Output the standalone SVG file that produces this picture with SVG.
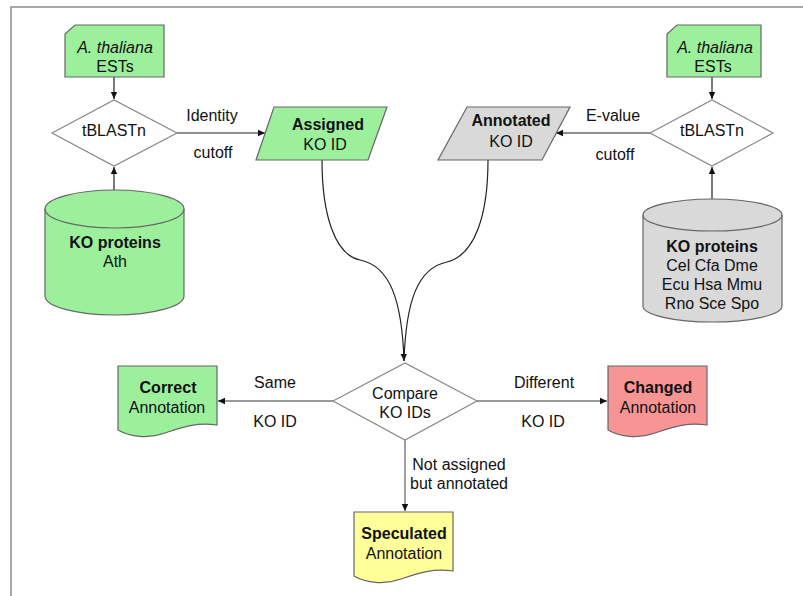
<svg xmlns="http://www.w3.org/2000/svg" width="803" height="596" viewBox="0 0 803 596">
<style>
text{font-family:"Liberation Sans",Arial,sans-serif;font-size:16px;fill:#111;text-anchor:middle}
.b{font-weight:bold}
.i{font-style:italic}
.sh{stroke:#666;stroke-width:1.2}
.g{fill:#9cf09c}
.gr{fill:#d9d9d9}
.pk{fill:#f79595}
.yl{fill:#ffff99}
.dm{fill:#fff;stroke:#888;stroke-width:1.2}
.c{fill:none;stroke:#222;stroke-width:1.2}
.cg{fill:none;stroke:#777;stroke-width:1.4}
</style>
<defs>
<marker id="ah" markerWidth="8" markerHeight="8" refX="7" refY="4" orient="auto" markerUnits="userSpaceOnUse">
<path d="M0,0.8 L7,4 L0,7.2 Z" fill="#111"/>
</marker>
</defs>
<rect width="803" height="596" fill="#fff"/>
<path d="M11,596 V7 H803" fill="none" stroke="#8a8a8a" stroke-width="1.5"/>

<g id="connectors">
<line class="c" x1="114" y1="77" x2="114" y2="99" marker-end="url(#ah)"/>
<line class="c" x1="114" y1="190" x2="114" y2="167" marker-end="url(#ah)"/>
<line class="c" x1="177" y1="133" x2="265" y2="133" marker-end="url(#ah)"/>
<line class="c" x1="712" y1="77" x2="712" y2="99" marker-end="url(#ah)"/>
<line class="c" x1="712" y1="199" x2="712" y2="167" marker-end="url(#ah)"/>
<line class="c" x1="650" y1="133" x2="556" y2="133" marker-end="url(#ah)"/>
<path class="c" d="M322,160 C322,215 335,255 360,260 C390,266 402,300 404,361" marker-end="url(#ah)"/>
<path class="c" d="M488,160 C488,215 475,255 447,262 C418,268 406,300 404,361"/>
<line class="cg" x1="333" y1="401" x2="218" y2="401" marker-end="url(#ah)"/>
<line class="cg" x1="477" y1="401" x2="607" y2="401" marker-end="url(#ah)"/>
<line class="cg" x1="405" y1="440" x2="405" y2="511" marker-end="url(#ah)"/>
<text x="212" y="121">Identity</text>
<text x="213" y="158">cutoff</text>
<text x="613" y="121">E-value</text>
<text x="615" y="160">cutoff</text>
<text x="275" y="388">Same</text>
<text x="275" y="427">KO ID</text>
<text x="544" y="388">Different</text>
<text x="543" y="427">KO ID</text>
<text x="459" y="470">Not assigned</text>
<text x="459" y="489">but annotated</text>
</g>

<g id="est-left">
<path class="sh g" d="M75,25 H164 V77 H65 V34 Z"/>
<text class="i" x="115" y="53">A. thaliana</text>
<text x="115" y="72">ESTs</text>
</g>

<g id="tblastn-left">
<path class="dm" d="M52,133 L114,100 L177,133 L114,166 Z"/>
<text x="114" y="136">tBLASTn</text>
</g>

<g id="ko-ath">
<path class="sh g" d="M45,209 V296 A69.5,19 0 0 0 184,296 V209 A69.5,19 0 0 0 45,209 Z"/>
<path class="sh" fill="none" d="M45,209 A69.5,19 0 0 0 184,209"/>
<text class="b" x="115" y="248">KO proteins</text>
<text x="115" y="267">Ath</text>
</g>

<g id="assigned">
<path class="sh g" d="M274,107 H387 L368,160 H256 Z"/>
<text class="b" x="328" y="130">Assigned</text>
<text x="325" y="150">KO ID</text>
</g>

<g id="annotated">
<path class="sh gr" d="M467,107 H570 L542,160 H438 Z"/>
<text class="b" x="511" y="126">Annotated</text>
<text x="511" y="147">KO ID</text>
</g>

<g id="est-right">
<path class="sh g" d="M677,25 H761 V77 H667 V34 Z"/>
<text class="i" x="715" y="53">A. thaliana</text>
<text x="713" y="72">ESTs</text>
</g>

<g id="tblastn-right">
<path class="dm" d="M650,133 L712,100 L773,133 L712,166 Z"/>
<text x="712" y="136">tBLASTn</text>
</g>

<g id="ko-others">
<path class="sh gr" d="M643,215 V306 A69.5,16 0 0 0 782,306 V215 A69.5,16 0 0 0 643,215 Z"/>
<path class="sh" fill="none" d="M643,215 A69.5,16 0 0 0 782,215"/>
<text class="b" x="712" y="252">KO proteins</text>
<text x="712" y="271">Cel Cfa Dme</text>
<text x="712" y="290">Ecu Hsa Mmu</text>
<text x="712" y="309">Rno Sce Spo</text>
</g>

<g id="compare">
<path class="dm" d="M333,401 L405,363 L477,401 L405,440 Z"/>
<text x="405" y="399">Compare</text>
<text x="405" y="418">KO IDs</text>
</g>

<g id="correct">
<path class="sh g" d="M118,366 H217 V425 C195,422 180,428 165,433 C148,439 130,437 118,430 Z"/>
<text class="b" x="168" y="393">Correct</text>
<text x="167" y="413">Annotation</text>
</g>

<g id="changed">
<path class="sh pk" d="M608,366 H707 V425 C685,422 670,428 655,433 C638,439 620,437 608,430 Z"/>
<text class="b" x="658" y="393">Changed</text>
<text x="658" y="413">Annotation</text>
</g>

<g id="speculated">
<path class="sh yl" d="M354,512 H453 V571 C431,568 416,574 401,579 C384,585 366,583 354,576 Z"/>
<text class="b" x="404" y="539">Speculated</text>
<text x="404" y="559">Annotation</text>
</g>
</svg>
